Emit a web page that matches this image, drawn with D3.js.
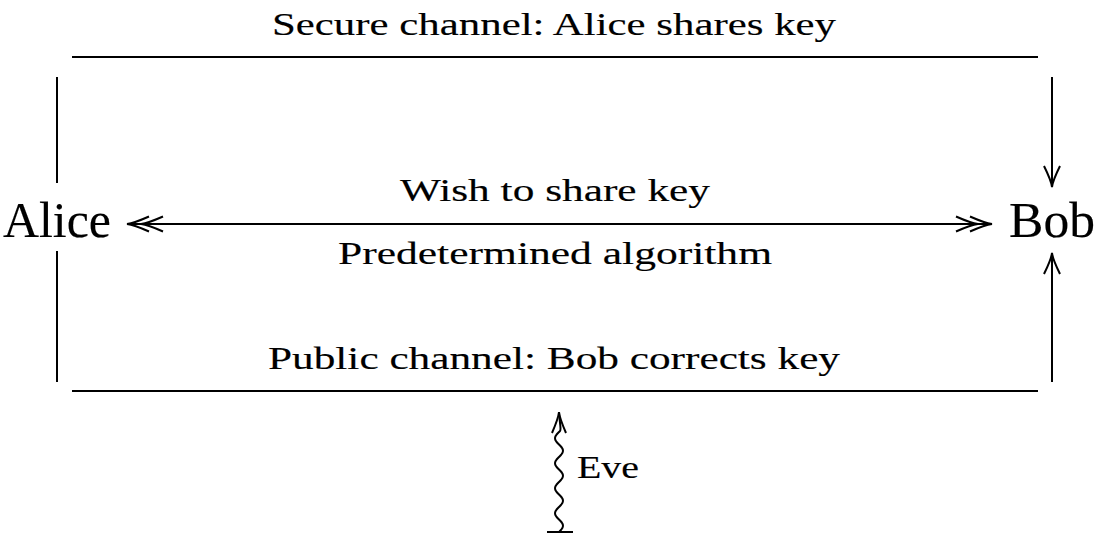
<!DOCTYPE html>
<html>
<head>
<meta charset="utf-8">
<script src="https://cdn.jsdelivr.net/npm/d3@7"></script>
<style>
  body { margin: 0; background: #fff; }
  text { font-family: "Liberation Serif", "DejaVu Serif", serif; fill: #000; stroke: #000; stroke-width: 0.15; }
</style>
</head>
<body>
<svg width="1100" height="540"></svg>
<script>
// diagram content
var parties = ["Alice", "Bob"]
var channels = ["Secure channel: Alice shares key", "Public channel: Bob corrects key"]
var linkLabels = ["Wish to share key", "Predetermined algorithm"]
var eavesdropper = ["Eve"]

var svg = d3.select("svg")

// diagram units -> pixels
var x = d3.scaleLinear().domain([0, 10]).range([57, 1052])
var y = d3.scaleLinear().domain([0, 10]).range([57, 391])
var midY = 224

function arrowHead(g, tx, ty, angle, len, half) {
  // tikz "to" style head, tip at (tx,ty) pointing along angle (deg)
  g.append("path")
    .attr("d", "M" + (-len) + "," + (-half) +
      " C" + (-len * 0.5) + "," + (-half * 0.35) + " " + (-len * 0.15) + "," + (-half * 0.05) + " 0,0" +
      " C" + (-len * 0.15) + "," + (half * 0.05) + " " + (-len * 0.5) + "," + (half * 0.35) + " " + (-len) + "," + half)
    .attr("transform", "translate(" + tx + "," + ty + ") rotate(" + angle + ")")
    .attr("fill", "none").attr("stroke", "#000").attr("stroke-width", 2)
}

var g = svg.append("g")
var stroke = { "stroke": "#000", "stroke-width": 2, "fill": "none" }
function line(x1, y1, x2, y2) {
  var l = g.append("line").attr("x1", x1).attr("y1", y1).attr("x2", x2).attr("y2", y2)
  for (var k in stroke) l.attr(k, stroke[k])
}

// channel lines
line(72, y(0), 1038, y(0))
line(72, y(10), 1038, y(10))

// Alice side verticals
line(x(0), 77, x(0), 183)
line(x(0), 251, x(0), 382)

// Bob side verticals with arrows
line(x(10), 77, x(10), 186)
arrowHead(g, x(10), 187, 90, 21, 8)
line(x(10), 382, x(10), 254)
arrowHead(g, x(10), 253, -90, 21, 8)

// two-way link
line(127, midY, 992, midY)
arrowHead(g, 127, midY, 180, 22, 7.5)
arrowHead(g, 141, midY, 180, 22, 7.5)
arrowHead(g, 992, midY, 0, 22, 7.5)
arrowHead(g, 978, midY, 0, 22, 7.5)

// party labels
svg.selectAll("text.party").data(parties).enter().append("text")
  .attr("class", "party")
  .attr("x", function(d, i) { return i == 0 ? 3 : 1009 })
  .attr("y", 237)
  .attr("font-size", 50)
  .attr("textLength", function(d, i) { return i == 0 ? 108 : 86 })
  .attr("lengthAdjust", "spacingAndGlyphs")
  .text(function(d) { return d })

// channel labels
svg.selectAll("text.channel").data(channels).enter().append("text")
  .attr("class", "channel")
  .attr("x", function(d, i) { return i == 0 ? 272 : 268 })
  .attr("y", function(d, i) { return i == 0 ? 35 : 369 })
  .attr("font-size", 32)
  .attr("textLength", function(d, i) { return i == 0 ? 564 : 572 })
  .attr("lengthAdjust", "spacingAndGlyphs")
  .text(function(d) { return d })

// link labels
svg.selectAll("text.link").data(linkLabels).enter().append("text")
  .attr("class", "link")
  .attr("x", function(d, i) { return i == 0 ? 400 : 338 })
  .attr("y", function(d, i) { return i == 0 ? 201 : 264 })
  .attr("font-size", 32)
  .attr("textLength", function(d, i) { return i == 0 ? 310 : 434 })
  .attr("lengthAdjust", "spacingAndGlyphs")
  .text(function(d) { return d })

// Eve: snake arrow up to the public channel
var ex = 559
line(547, 532, 573, 532)
var pts = []
for (var t = 532; t >= 430; t -= 1) {
  pts.push([ex + 4 * Math.sin((532 - t) / 25 * 2 * Math.PI), t])
}
pts.push([ex, 414])
g.append("path")
  .attr("d", d3.line().curve(d3.curveBasis)(pts))
  .attr("fill", "none").attr("stroke", "#000").attr("stroke-width", 2)
arrowHead(g, ex, 412, -90, 21, 7)

svg.selectAll("text.eve").data(eavesdropper).enter().append("text")
  .attr("class", "eve")
  .attr("x", 577)
  .attr("y", 478)
  .attr("font-size", 32)
  .attr("textLength", 62)
  .attr("lengthAdjust", "spacingAndGlyphs")
  .text(function(d) { return d })
</script>
</body>
</html>
